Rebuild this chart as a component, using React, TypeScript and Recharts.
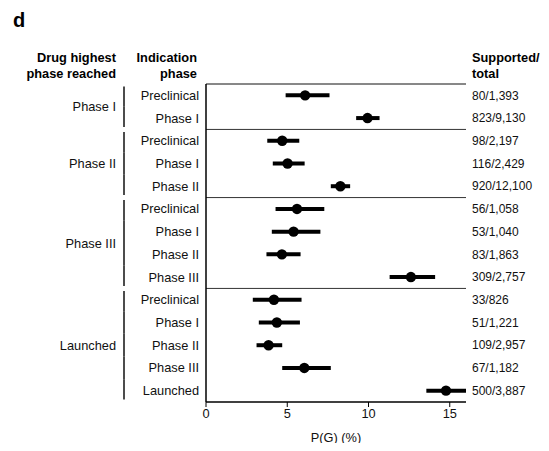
import React from 'react';
import { ScatterChart, Scatter, XAxis, YAxis, ErrorBar, ReferenceLine } from 'recharts';

const rowLabels = ['Preclinical', 'Phase I', 'Preclinical', 'Phase I', 'Phase II', 'Preclinical', 'Phase I', 'Phase II', 'Phase III', 'Preclinical', 'Phase I', 'Phase II', 'Phase III', 'Launched'];
const groupLabels = ['Phase I', 'Phase II', 'Phase III', 'Launched'];
const groupSizes = [2, 3, 4, 5];
const counts = ['80/1,393', '823/9,130', '98/2,197', '116/2,429', '920/12,100', '56/1,058', '53/1,040', '83/1,863', '309/2,757', '33/826', '51/1,221', '109/2,957', '67/1,182', '500/3,887'];
const pg = [6.1, 9.94, 4.69, 5.02, 8.27, 5.6, 5.39, 4.67, 12.61, 4.18, 4.36, 3.85, 6.05, 14.77];
const lower = [4.9, 9.24, 3.77, 4.11, 7.68, 4.28, 4.05, 3.72, 11.3, 2.88, 3.25, 3.11, 4.69, 13.56];
const upper = [7.6, 10.68, 5.74, 6.07, 8.87, 7.28, 7.04, 5.82, 14.1, 5.88, 5.78, 4.69, 7.68, 16.0];
const xTicks = [0, 5, 10, 15];

const W = 541;
const H = 443;
const MARGIN = { top: 76, right: 83, bottom: 0, left: 0 };
const X_AXIS_H = 49;
const NROWS = rowLabels.length;
const PLOT_H = H - MARGIN.top - MARGIN.bottom - X_AXIS_H;
const ROW_H = PLOT_H / NROWS;
const FONT = '"Liberation Sans", Arial, Helvetica, sans-serif';
const FS = 12.8;

const data = pg.map((v, i) => ({
  pos: i + 0.5,
  value: v,
  err: [v - lower[i], upper[i] - v],
}));

const rowTicks = rowLabels.map((_, i) => i + 0.5);

const rowGroup: number[] = [];
const groupStarts: number[] = [];
groupSizes.forEach((s, g) => {
  groupStarts.push(rowGroup.length);
  for (let k = 0; k < s; k++) rowGroup.push(g);
});

const RowTick = (props: any) => {
  const idx = Math.round(props.payload.value - 0.5);
  const y = props.y;
  const g = rowGroup[idx];
  const first = groupStarts[g] === idx;
  const last = groupStarts[g] + groupSizes[g] - 1 === idx;
  const y1 = y - ROW_H / 2 + (first ? 2.5 : 0);
  const y2 = y + ROW_H / 2 - (last ? 2.5 : 0);
  const groupY = y + (groupSizes[g] / 2 - 0.5) * ROW_H;
  return (
    <g>
      <text x={191} y={y} dy="0.355em" textAnchor="end" fontSize={FS} fontFamily={FONT} fill="#111">
        {rowLabels[idx]}
      </text>
      <text x={464} y={y} dy="0.355em" textAnchor="start" fontSize={12} fontFamily={FONT} fill="#111">
        {counts[idx]}
      </text>
      <line x1={116} x2={116} y1={y1} y2={y2} stroke="#111" strokeWidth={1.5} />
      {first && (
        <text x={108} y={groupY} dy="0.355em" textAnchor="end" fontSize={FS} fontFamily={FONT} fill="#111">
          {groupLabels[g]}
        </text>
      )}
    </g>
  );
};

const Dot = (props: any) => <circle cx={props.cx} cy={props.cy} r={5.2} fill="#000" />;

export default function App() {
  return (
    <div style={{ position: 'relative', width: W, height: H, marginBottom: -8 }}>
      <ScatterChart width={W} height={H} margin={MARGIN}>
        <XAxis
          type="number"
          dataKey="value"
          domain={[0, 16]}
          ticks={xTicks}
          allowDataOverflow
          height={X_AXIS_H}
          axisLine={{ stroke: '#000', strokeWidth: 1.5 }}
          tickLine={{ stroke: '#000' }}
          tickSize={5}
          tick={{ fill: '#111', fontSize: FS, fontFamily: FONT }}
          label={{ value: 'P(G) (%)', position: 'insideBottom', offset: 9, fill: '#111', fontSize: FS, fontFamily: FONT }}
        />
        <YAxis
          yAxisId="row"
          type="number"
          dataKey="pos"
          domain={[0, NROWS]}
          reversed
          ticks={rowTicks}
          interval={0}
          width={198}
          axisLine={false}
          tickLine={false}
          tick={<RowTick />}
        />
        <ReferenceLine yAxisId="row" y={0} stroke="#111" strokeWidth={1} />
        <ReferenceLine yAxisId="row" y={2} stroke="#333" strokeWidth={1} />
        <ReferenceLine yAxisId="row" y={5} stroke="#333" strokeWidth={1} />
        <ReferenceLine yAxisId="row" y={9} stroke="#333" strokeWidth={1} />
        <ReferenceLine yAxisId="row" x={0} stroke="#000" strokeWidth={1.5} />
        <Scatter yAxisId="row" data={data} dataKey="value" shape={<Dot />} isAnimationActive={false}>
          <ErrorBar dataKey="err" direction="x" width={0} strokeWidth={4} stroke="#000" isAnimationActive={false} />
        </Scatter>
      </ScatterChart>
      <svg width={W} height={H} style={{ position: 'absolute', left: 0, top: 0, pointerEvents: 'none' }}>
        <text x={5} y={19} fontSize={20} fontWeight="bold" fontFamily={FONT} fill="#000">d</text>
        <text x={108} y={54} textAnchor="end" fontSize={FS} fontWeight="bold" fontFamily={FONT} fill="#000">Drug highest</text>
        <text x={108} y={70} textAnchor="end" fontSize={FS} fontWeight="bold" fontFamily={FONT} fill="#000">phase reached</text>
        <text x={189} y={54} textAnchor="end" fontSize={FS} fontWeight="bold" fontFamily={FONT} fill="#000">Indication</text>
        <text x={189} y={70} textAnchor="end" fontSize={FS} fontWeight="bold" fontFamily={FONT} fill="#000">phase</text>
        <text x={464} y={54} textAnchor="start" fontSize={FS} fontWeight="bold" fontFamily={FONT} fill="#000">Supported/</text>
        <text x={464} y={70} textAnchor="start" fontSize={FS} fontWeight="bold" fontFamily={FONT} fill="#000">total</text>
      </svg>
    </div>
  );
}
